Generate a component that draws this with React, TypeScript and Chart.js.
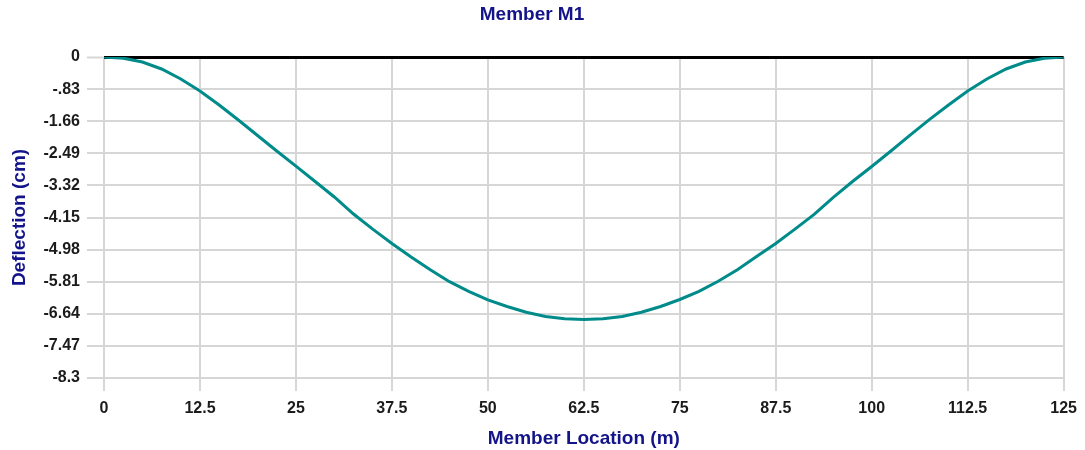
import React, { useEffect, useRef } from "react";
import { Chart, registerables } from "chart.js";

Chart.register(...registerables);

const chartTitle = "Member M1";
const xAxisTitle = "Member Location (m)";
const yAxisTitle = "Deflection (cm)";

const locations = [
  0, 2.5, 5, 7.5, 10, 12.5, 15, 17.5, 20, 22.5, 25, 27.5, 30, 32.5, 35, 37.5, 40, 42.5, 45, 47.5, 50,
  52.5, 55, 57.5, 60, 62.5, 65, 67.5, 70, 72.5, 75, 77.5, 80, 82.5, 85, 87.5, 90, 92.5, 95, 97.5, 100,
  102.5, 105, 107.5, 110, 112.5, 115, 117.5, 120, 122.5, 125,
];
const deflection = [
  0, -0.03, -0.13, -0.31, -0.57, -0.88, -1.24, -1.63, -2.03, -2.43, -2.82, -3.22, -3.62, -4.06, -4.45,
  -4.82, -5.17, -5.5, -5.81, -6.06, -6.28, -6.45, -6.6, -6.71, -6.77, -6.79, -6.77, -6.71, -6.6, -6.45,
  -6.27, -6.06, -5.8, -5.5, -5.16, -4.82, -4.45, -4.07, -3.63, -3.22, -2.83, -2.43, -2.02, -1.62, -1.24,
  -0.88, -0.57, -0.31, -0.13, -0.03, 0,
];

const yTickValues = [0, -0.83, -1.66, -2.49, -3.32, -4.15, -4.98, -5.81, -6.64, -7.47, -8.3];
const yTickLabels = ["0", "-.83", "-1.66", "-2.49", "-3.32", "-4.15", "-4.98", "-5.81", "-6.64", "-7.47", "-8.3"];
const xTickValues = [0, 12.5, 25, 37.5, 50, 62.5, 75, 87.5, 100, 112.5, 125];
const xTickLabels = ["0", "12.5", "25", "37.5", "50", "62.5", "75", "87.5", "100", "112.5", "125"];

const FONT = "'Liberation Sans', Arial, sans-serif";
const GRID = "#d6d6d6";
const TITLE_COLOR = "#14148a";
const TICK_COLOR = "#1b1b1b";

export default function App() {
  const ref = useRef<HTMLCanvasElement | null>(null);

  useEffect(() => {
    if (!ref.current) return;
    const chart = new Chart(ref.current, {
      type: "line",
      data: {
        datasets: [
          {
            data: locations.map((x, i) => ({ x, y: deflection[i] })),
            borderColor: "#008b8b",
            borderWidth: 3,
            pointRadius: 0,
            tension: 0,
            fill: false,
          },
        ],
      },
      options: {
        responsive: false,
        animation: false,
        layout: { padding: { left: 0, right: 21, top: 0, bottom: 0 } },
        plugins: {
          legend: { display: false },
          tooltip: { enabled: false },
          title: {
            display: true,
            text: chartTitle,
            color: TITLE_COLOR,
            font: { family: FONT, size: 19, weight: "bold", lineHeight: 1.2 },
            padding: { top: 3, bottom: 31.2 },
          },
        },
        scales: {
          x: {
            type: "linear",
            min: 0,
            max: 125,
            afterBuildTicks: (scale: any) => {
              scale.ticks = xTickValues.map((v) => ({ value: v }));
            },
            afterFit: (scale: any) => {
              scale.height = 72;
            },
            ticks: {
              autoSkip: false,
              maxRotation: 0,
              padding: 8,
              color: TICK_COLOR,
              font: { family: FONT, size: 16, weight: "bold" },
              callback: (_v: any, i: number) => xTickLabels[i],
            },
            grid: {
              color: GRID,
              lineWidth: 2,
              tickLength: 13,
              tickColor: GRID,
              tickWidth: 2,
            },
            border: { display: false },
            title: {
              display: true,
              text: xAxisTitle,
              color: TITLE_COLOR,
              font: { family: FONT, size: 19, weight: "bold", lineHeight: 1.2 },
              padding: { top: 4, bottom: 0 },
            },
          },
          y: {
            type: "linear",
            min: -8.3,
            max: 0,
            afterBuildTicks: (scale: any) => {
              scale.ticks = yTickValues.map((v) => ({ value: v }));
            },
            afterFit: (scale: any) => {
              scale.width = 104;
            },
            ticks: {
              autoSkip: false,
              padding: 7,
              color: TICK_COLOR,
              font: { family: FONT, size: 16, weight: "bold" },
              callback: (_v: any, i: number) => yTickLabels[i],
            },
            grid: {
              color: (ctx: any) => (ctx.tick && ctx.tick.value === 0 ? "#000000" : GRID),
              lineWidth: (ctx: any) => (ctx.tick && ctx.tick.value === 0 ? 3 : 2),
              tickLength: 17,
              tickColor: GRID,
              tickWidth: 2,
            },
            border: { display: false },
            title: {
              display: true,
              text: yAxisTitle,
              color: TITLE_COLOR,
              font: { family: FONT, size: 19, weight: "bold", lineHeight: 1.2 },
              padding: { top: 8.6, bottom: 0 },
            },
          },
        },
      },
    } as any);
    return () => chart.destroy();
  }, []);

  return (
    <div style={{ position: "fixed", left: 0, top: 0, width: 1085, height: 450, background: "#fff" }}>
      <canvas ref={ref} width={1085} height={450} style={{ display: "block", width: 1085, height: 450 }} />
    </div>
  );
}
